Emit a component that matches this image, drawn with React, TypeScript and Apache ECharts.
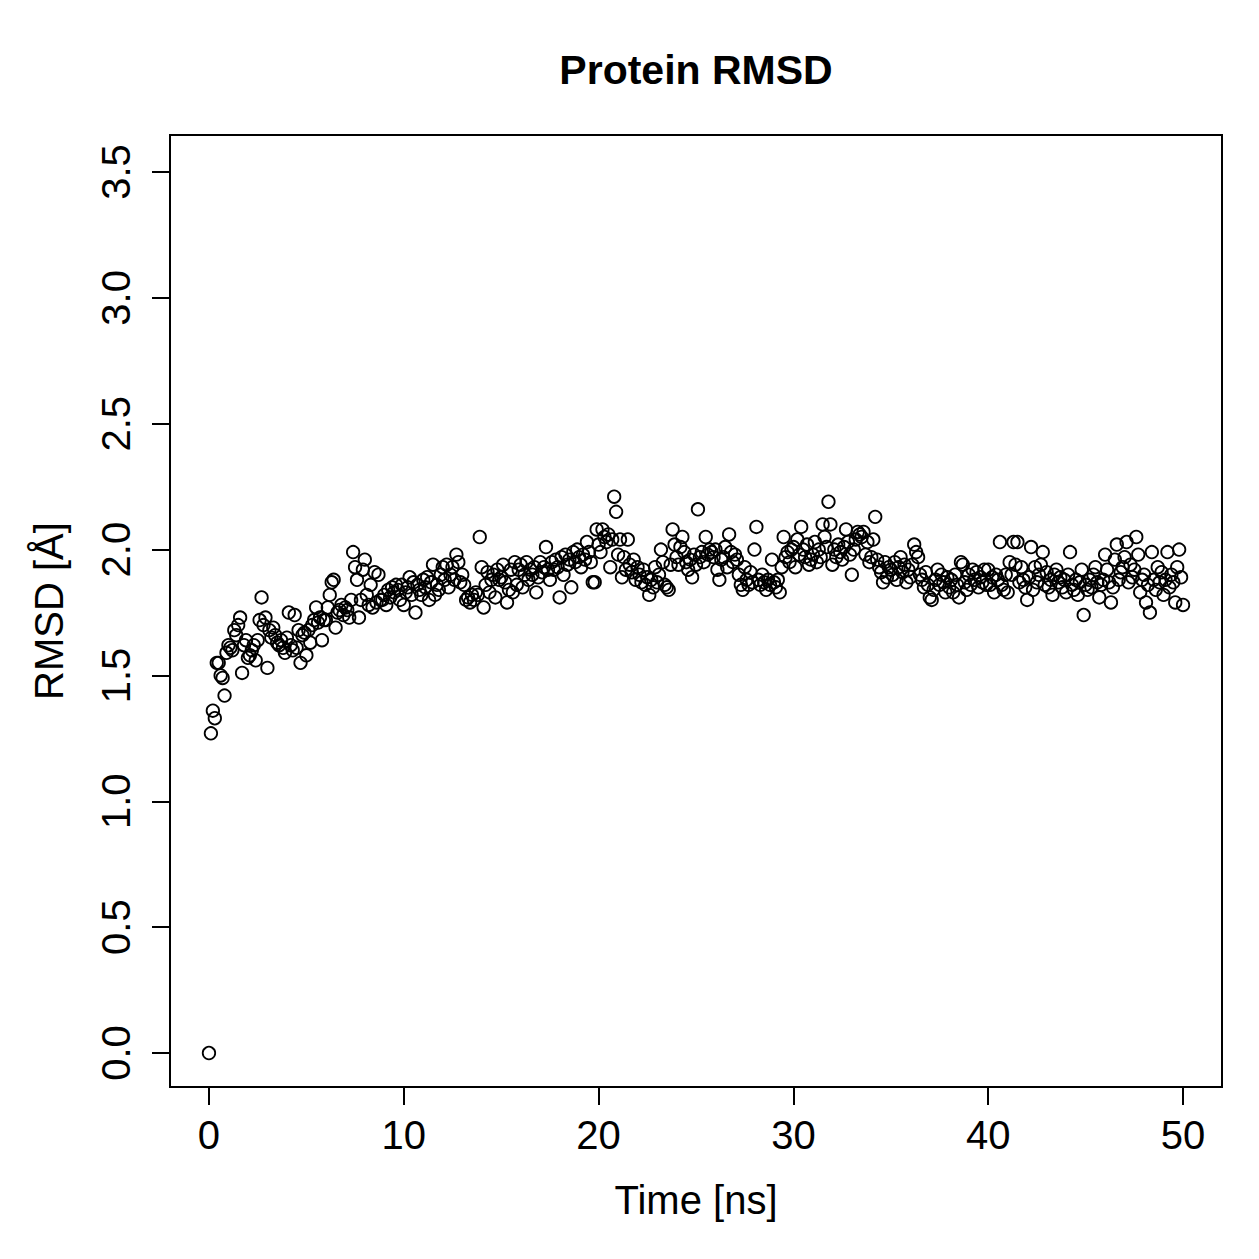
import React, { useEffect, useRef } from "react";
import * as echarts from "echarts";

const timeStepNs = 0.1;
const rmsd0to10 = [
  0.0, 1.27, 1.36, 1.33, 1.55, 1.55, 1.5, 1.49, 1.42, 1.59,
  1.62, 1.61, 1.6, 1.68, 1.66, 1.7, 1.73, 1.51, 1.62, 1.64,
  1.57, 1.58, 1.6, 1.62, 1.56, 1.64, 1.72, 1.81, 1.7, 1.73,
  1.53, 1.68, 1.65, 1.69, 1.66, 1.63, 1.62, 1.64, 1.61, 1.59,
  1.65, 1.75, 1.62, 1.6, 1.74, 1.61, 1.68, 1.55, 1.66, 1.67,
  1.58, 1.68, 1.63, 1.7, 1.72, 1.77, 1.71, 1.73, 1.64, 1.72,
  1.72, 1.77, 1.82, 1.87, 1.88, 1.69, 1.75, 1.76, 1.78, 1.74,
  1.77, 1.76, 1.73, 1.8, 1.99, 1.93, 1.88, 1.73, 1.8, 1.92,
  1.96, 1.82, 1.78, 1.86, 1.77, 1.91, 1.79, 1.9, 1.8, 1.8,
  1.82, 1.78, 1.84, 1.81, 1.85, 1.83, 1.86, 1.84, 1.8, 1.86,
];
const rmsd10to20 = [
  1.78, 1.83, 1.85, 1.89, 1.82, 1.87, 1.75, 1.86, 1.84, 1.82,
  1.88, 1.85, 1.89, 1.8, 1.87, 1.94, 1.82, 1.86, 1.84, 1.9,
  1.93, 1.88, 1.94, 1.85, 1.9, 1.93, 1.88, 1.98, 1.95, 1.87,
  1.9, 1.86, 1.8, 1.81, 1.79, 1.82, 1.8, 1.83, 1.82, 2.05,
  1.93, 1.77, 1.86, 1.91, 1.83, 1.88, 1.9, 1.81, 1.92, 1.88,
  1.89, 1.94, 1.87, 1.79, 1.84, 1.92, 1.83, 1.95, 1.86, 1.92,
  1.94, 1.85, 1.9, 1.95, 1.88, 1.92, 1.9, 1.93, 1.83, 1.89,
  1.95, 1.91, 1.93, 2.01, 1.92, 1.88, 1.95, 1.92, 1.96, 1.93,
  1.81, 1.97, 1.9, 1.98, 1.94, 1.96, 1.85, 1.99, 1.95, 2.0,
  1.97, 1.93, 1.98, 1.96, 2.03, 1.99, 1.95, 1.87, 1.87, 2.08,
];
const rmsd20to30 = [
  2.02, 1.99, 2.08, 2.05, 2.03, 2.06, 1.93, 2.04, 2.21, 2.15,
  1.98, 2.04, 1.89, 1.97, 1.92, 2.04, 1.94, 1.91, 1.96, 1.88,
  1.93, 1.9, 1.87, 1.92, 1.86, 1.89, 1.82, 1.88, 1.85, 1.93,
  1.87, 1.9, 2.0, 1.95, 1.86, 1.85, 1.84, 1.94, 2.08, 2.02,
  1.97, 1.94, 2.01, 2.05, 1.99, 1.95, 1.92, 1.96, 1.89, 1.98,
  1.94, 2.16, 1.97, 1.99, 1.95, 2.05, 1.98, 2.0, 1.99, 1.97,
  2.0, 1.92, 1.88, 1.96, 1.97, 2.01, 1.93, 2.06, 1.99, 1.95,
  1.98, 1.96, 1.9, 1.86, 1.84, 1.93, 1.88, 1.86, 1.91, 1.87,
  2.0, 2.09, 1.88, 1.86, 1.9, 1.87, 1.84, 1.88, 1.86, 1.96,
  1.87, 1.85, 1.88, 1.83, 1.93, 2.05, 1.97, 1.99, 1.95, 2.0,
];
const rmsd30to40 = [
  2.01, 1.93, 2.04, 1.98, 2.09, 2.0, 1.97, 2.02, 1.94, 1.96,
  1.98, 2.03, 1.95, 2.0, 1.97, 2.1, 2.05, 2.01, 2.19, 2.1,
  1.94, 2.0, 1.97, 2.02, 1.99, 1.96, 2.01, 2.08, 2.03, 1.98,
  1.9, 2.0, 2.04, 2.07, 2.06, 2.05, 2.07, 1.98, 2.03, 1.95,
  1.97, 2.04, 2.13, 1.96, 1.93, 1.91, 1.87, 1.95, 1.89, 1.93,
  1.92, 1.9, 1.95, 1.88, 1.93, 1.97, 1.91, 1.94, 1.87, 1.92,
  1.89, 1.94, 2.02, 1.99, 1.97, 1.9, 1.88, 1.85, 1.91, 1.86,
  1.81, 1.8, 1.84, 1.88, 1.92, 1.86, 1.9, 1.87, 1.83, 1.89,
  1.85, 1.88, 1.83, 1.9, 1.86, 1.81, 1.95, 1.94, 1.87, 1.84,
  1.9, 1.86, 1.92, 1.88, 1.91, 1.85, 1.89, 1.87, 1.92, 1.86,
];
const rmsd40to50 = [
  1.92, 1.86, 1.89, 1.83, 1.9, 1.88, 2.03, 1.86, 1.84, 1.9,
  1.83, 1.95, 1.9, 2.03, 1.94, 2.03, 1.87, 1.93, 1.88, 1.85,
  1.8, 1.89, 2.01, 1.84, 1.93, 1.87, 1.9, 1.94, 1.99, 1.86,
  1.91, 1.85, 1.88, 1.82, 1.9, 1.92, 1.87, 1.89, 1.85, 1.88,
  1.83, 1.9, 1.99, 1.86, 1.84, 1.88, 1.82, 1.87, 1.92, 1.74,
  1.86, 1.84, 1.88, 1.85, 1.9, 1.93, 1.87, 1.81, 1.86, 1.88,
  1.98, 1.92, 1.87, 1.79, 1.85, 1.96, 2.02, 1.88, 1.91, 1.93,
  1.97, 2.03, 1.87, 1.94, 1.89, 1.92, 2.05, 1.98, 1.83, 1.88,
  1.9, 1.79, 1.86, 1.75, 1.99, 1.88, 1.84, 1.93, 1.87, 1.91,
  1.82, 1.88, 1.99, 1.85, 1.9, 1.87, 1.79, 1.93, 2.0, 1.89,
];
const rmsdAt50 = [1.78];

const xTicks = [0, 10, 20, 30, 40, 50];
const yTicks = [0, 0.5, 1, 1.5, 2, 2.5, 3, 3.5];

const titleText = "Protein RMSD";
const xName = "Time [ns]";
const yName = "RMSD [Å]";

const FONT = "'Liberation Sans', Arial, Helvetica, sans-serif";

export default function App() {
  const ref = useRef<HTMLDivElement>(null);
  useEffect(() => {
    if (!ref.current) return;
    const chart = echarts.init(ref.current, undefined, { renderer: "svg" });
    const all = [...rmsd0to10, ...rmsd10to20, ...rmsd20to30, ...rmsd30to40, ...rmsd40to50, ...rmsdAt50];
    const data = all.map((v, i) => [Math.round(i * timeStepNs * 10) / 10, v]);
    chart.setOption({
      animation: false,
      backgroundColor: "#fff",
      graphic: [
        {
          type: "text",
          x: 696,
          y: 49,
          style: {
            text: titleText,
            textAlign: "center",
            textVerticalAlign: "top",
            fontFamily: FONT,
            fontSize: 41,
            fontWeight: "bold",
            fill: "#000",
          },
        },
      ],
      grid: {
        left: 170,
        top: 135,
        width: 1052,
        height: 952,
        show: true,
        borderColor: "#000",
        borderWidth: 2,
        backgroundColor: "transparent",
      },
      xAxis: {
        type: "value",
        min: -2,
        max: 52,
        name: xName,
        nameLocation: "middle",
        nameGap: 93,
        nameTextStyle: { fontFamily: FONT, fontSize: 40, color: "#000" },
        splitLine: { show: false },
        axisLine: { show: false, onZero: false },
        axisTick: {
          show: true,
          inside: false,
          length: 18,
          customValues: xTicks,
          lineStyle: { color: "#000", width: 2 },
        },
        axisLabel: {
          customValues: xTicks,
          margin: 28,
          fontFamily: FONT,
          fontSize: 40,
          color: "#000",
        },
      },
      yAxis: {
        type: "value",
        min: -0.135,
        max: 3.647,
        name: yName,
        nameLocation: "middle",
        nameGap: 101,
        nameRotate: 90,
        nameTextStyle: { fontFamily: FONT, fontSize: 40, color: "#000" },
        splitLine: { show: false },
        axisLine: { show: false, onZero: false },
        axisTick: {
          show: true,
          inside: false,
          length: 18,
          customValues: yTicks,
          lineStyle: { color: "#000", width: 2 },
        },
        axisLabel: {
          customValues: yTicks,
          rotate: 90,
          margin: 34,
          fontFamily: FONT,
          fontSize: 40,
          color: "#000",
          formatter: (v: number) => v.toFixed(1),
        },
      },
      series: [
        {
          type: "scatter",
          data,
          symbol: "circle",
          symbolSize: 12.5,
          itemStyle: { color: "rgba(0,0,0,0)", borderColor: "#000", borderWidth: 1.8, opacity: 1 },
          emphasis: { disabled: true },
        },
      ],
    });
    return () => chart.dispose();
  }, []);
  return (
    <div
      ref={ref}
      style={{ position: "fixed", left: 0, top: 0, width: 1259, height: 1259, background: "#fff" }}
    />
  );
}
